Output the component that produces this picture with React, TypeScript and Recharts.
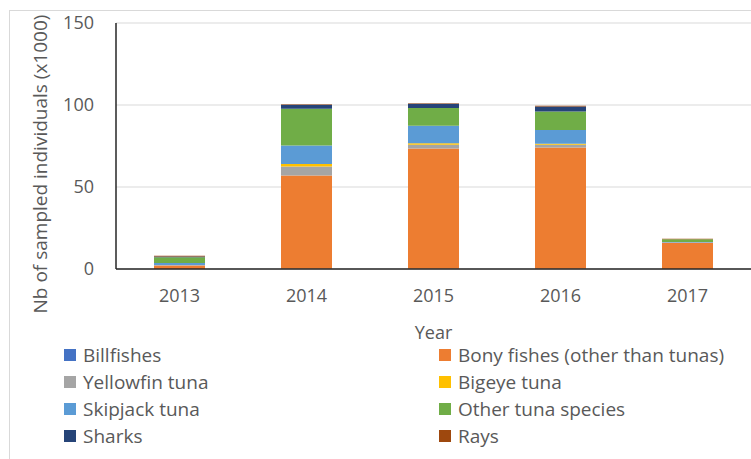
import React from "react"
import { BarChart, Bar, XAxis, YAxis, CartesianGrid } from "recharts"

const years = ["2013", "2014", "2015", "2016", "2017"]

// values in thousands of sampled individuals, stacked bottom -> top
const billfishes = [0, 0.1, 0.1, 0.1, 0]
const bonyFishes = [2.2, 56.9, 73.4, 74, 16]
const yellowfin = [0.2, 5.5, 2.2, 1.6, 0.1]
const bigeye = [0, 1.6, 1.0, 0.6, 0]
const skipjack = [1.2, 11.2, 10.6, 8.4, 0.3]
const otherTuna = [3.6, 22.4, 10.8, 11.3, 1.8]
const sharks = [0.4, 2.4, 2.6, 3.1, 0]
const rays = [0.5, 0.3, 0.3, 0.4, 0.2]

const yTicks = [0, 50, 100, 150]

const SERIES = [
  { key: "billfishes", name: "Billfishes", color: "#4472C4", values: billfishes },
  { key: "bony", name: "Bony fishes (other than tunas)", color: "#ED7D31", values: bonyFishes },
  { key: "yellowfin", name: "Yellowfin tuna", color: "#A5A5A5", values: yellowfin },
  { key: "bigeye", name: "Bigeye tuna", color: "#FFC000", values: bigeye },
  { key: "skipjack", name: "Skipjack tuna", color: "#5B9BD5", values: skipjack },
  { key: "other", name: "Other tuna species", color: "#70AD47", values: otherTuna },
  { key: "sharks", name: "Sharks", color: "#264478", values: sharks },
  { key: "rays", name: "Rays", color: "#9E480E", values: rays },
]

const data = years.map((year, i) => {
  const row: Record<string, any> = { year }
  SERIES.forEach(s => { row[s.key] = s.values[i] })
  return row
})

const FONT = "'Open Sans', sans-serif"
const TEXT = "#595959"

export default function App() {
  return (
    <div style={{ position: "absolute", left: 0, top: 0, width: 751, height: 459, overflow: "hidden", background: "#fff", fontFamily: FONT }}>
      {/* outer chart frame, cut off at right/bottom like the original */}
      <div style={{ position: "absolute", left: 9, top: 10, width: 800, height: 500, border: "1px solid #d9d9d9" }} />

      <div style={{ position: "absolute", left: 0, top: 0 }}>
        <BarChart width={751} height={459} data={data} margin={{ top: 23, right: 0, left: 0, bottom: 110 }} barSize={51}>
          <CartesianGrid stroke="#d9d9d9" vertical={false} />
          <XAxis
            dataKey="year"
            height={80}
            axisLine={{ stroke: "#262626", strokeWidth: 1.5 }}
            tickLine={false}
            tickSize={0}
            tickMargin={20}
            tick={{ fill: TEXT, fontSize: 18, fontFamily: FONT }}
            label={({ viewBox }: any) => (
              <text x={viewBox.x + viewBox.width / 2} y={viewBox.y + 63} textAnchor="middle" dominantBaseline="central" fill={TEXT} fontSize={18} fontFamily={FONT}>
                Year
              </text>
            )}
          />
          <YAxis
            width={116}
            domain={[0, 150]}
            ticks={yTicks}
            interval={0}
            axisLine={{ stroke: "#262626", strokeWidth: 1.5 }}
            tickLine={false}
            tickSize={0}
            tickMargin={22}
            tick={{ fill: TEXT, fontSize: 18, fontFamily: FONT }}
            label={({ viewBox }: any) => {
              const cy = viewBox.y + viewBox.height / 2 + 18
              return (
                <text x={40} y={cy} textAnchor="middle" dominantBaseline="central" fill={TEXT} fontSize={19} fontFamily={FONT} transform={`rotate(-90 40 ${cy})`}>
                  Nb of sampled individuals (x1000)
                </text>
              )
            }}
          />
          {SERIES.map(s => (
            <Bar key={s.key} dataKey={s.key} name={s.name} stackId="a" fill={s.color} isAnimationActive={false} />
          ))}
        </BarChart>
      </div>

      {/* Legend */}
      <div style={{ position: "absolute", left: 64, top: 341, display: "grid", gridTemplateColumns: "375px 300px", gridAutoRows: "27px" }}>
        {SERIES.map(s => (
          <div key={s.key} style={{ display: "flex", alignItems: "center", gap: 7, color: TEXT, fontSize: 19, whiteSpace: "nowrap" }}>
            <span style={{ width: 12, height: 12, background: s.color, display: "inline-block", flex: "none" }} />
            <span>{s.name}</span>
          </div>
        ))}
      </div>
    </div>
  )
}
